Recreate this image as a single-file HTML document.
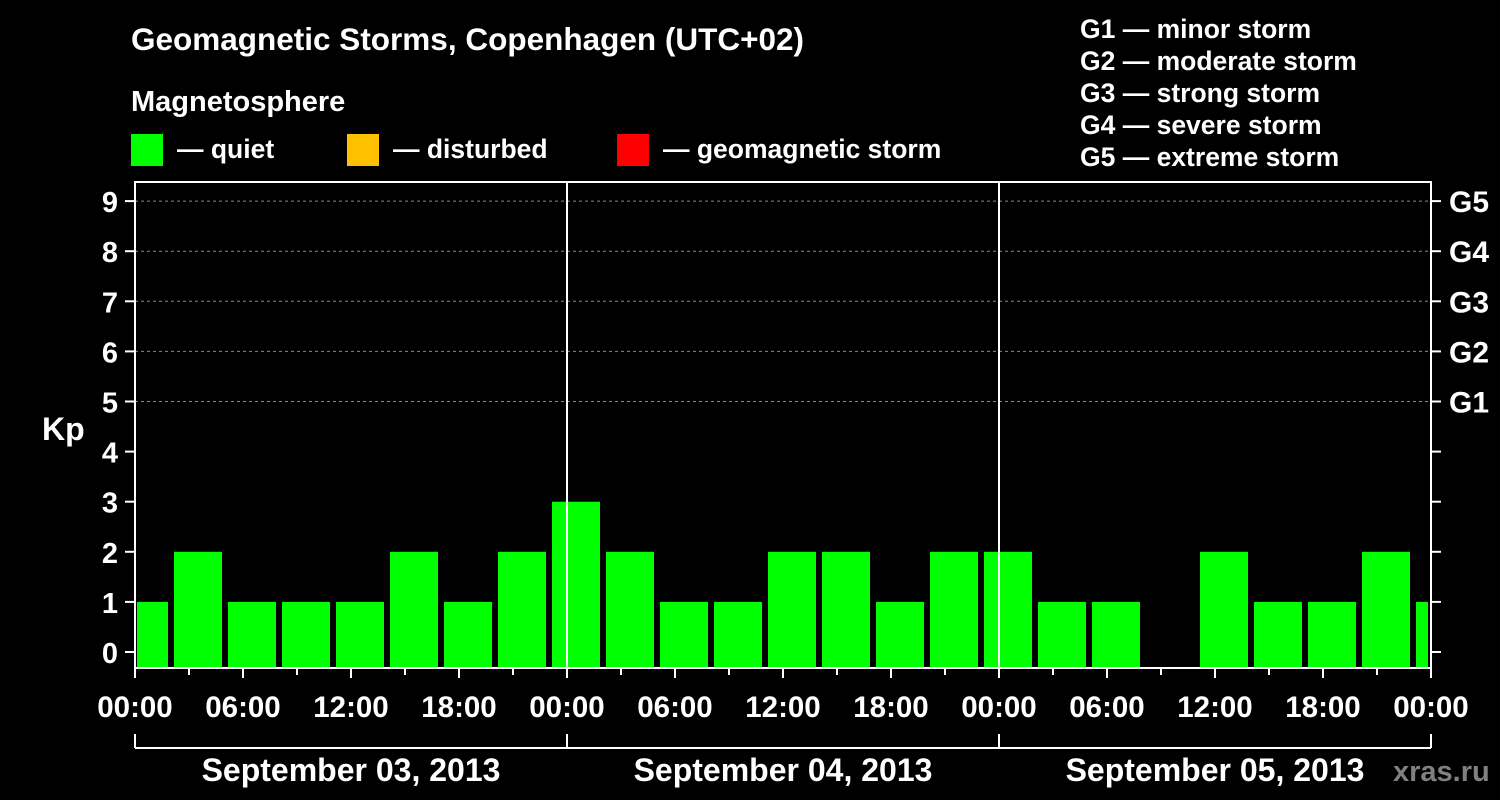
<!DOCTYPE html>
<html><head><meta charset="utf-8"><style>
html,body{margin:0;padding:0;background:#000;}
svg{display:block;font-family:"Liberation Sans",Arial,sans-serif;font-weight:bold;}
</style></head><body>
<svg id="chart" width="1500" height="800">
<rect width="1500" height="800" fill="#000"/>
<text x="131" y="50" fill="#fff" font-size="31.5">Geomagnetic Storms, Copenhagen (UTC+02)</text>
<text x="131" y="111" fill="#fff" font-size="29">Magnetosphere</text>
<g><rect x="131" y="134" width="32" height="32" fill="#00ff00"/><text x="177" y="158" fill="#fff" font-size="26.5">— quiet</text></g>
<g><rect x="347" y="134" width="32" height="32" fill="#ffc000"/><text x="393" y="158" fill="#fff" font-size="26.5">— disturbed</text></g>
<g><rect x="617" y="134" width="32" height="32" fill="#ff0000"/><text x="663" y="158" fill="#fff" font-size="26.5">— geomagnetic storm</text></g>
<g fill="#fff" font-size="26.5">
<text x="1080" y="38">G1 — minor storm</text>
<text x="1080" y="70">G2 — moderate storm</text>
<text x="1080" y="102">G3 — strong storm</text>
<text x="1080" y="134">G4 — severe storm</text>
<text x="1080" y="166">G5 — extreme storm</text>
</g>
<text x="42" y="440" fill="#fff" font-size="32">Kp</text>
<text x="1393" y="781" fill="#808080" font-size="29">xras.ru</text>
<g id="grid"></g><g id="bars"></g><g id="axes"></g>
</svg>
<script>
const kpValues=[1,2,1,1,1,2,1,2,3,2,1,1,2,2,1,2,2,1,1,0,2,1,1,2,1];
const yTicks=[0,1,2,3,4,5,6,7,8,9];
const gLabels=["G1","G2","G3","G4","G5"];
const xLabels=["00:00","06:00","12:00","18:00","00:00","06:00","12:00","18:00","00:00","06:00","12:00","18:00","00:00"];
const dayLabels=["September 03, 2013","September 04, 2013","September 05, 2013"];
const NS="http://www.w3.org/2000/svg";
const L=135,R=1431,T=182,B=668;
const y=v=>652-v*50.1;
const x=h=>L+h*18;
function mk(tag,attrs,parent,txt){const e=document.createElementNS(NS,tag);for(const k in attrs)e.setAttribute(k,attrs[k]);if(txt!=null)e.textContent=txt;parent.appendChild(e);return e;}
const grid=document.getElementById('grid'),bars=document.getElementById('bars'),axes=document.getElementById('axes');
yTicks.forEach(v=>{
 if(v>=5){const g=mk('line',{x1:L,x2:R,y1:y(v),y2:y(v),stroke:'#888','stroke-dasharray':'3,3','stroke-width':1},grid);
 
 }
 const t=mk('text',{x:118,y:y(v)+11,fill:'#fff','font-size':29,'text-anchor':'end'},axes,String(v));
 
 
 mk('line',{x1:L-10,x2:L,y1:y(v),y2:y(v),stroke:'#fff','stroke-width':2},axes);
 mk('line',{x1:R,x2:R+10,y1:y(v),y2:y(v),stroke:'#fff','stroke-width':2},axes);
});
gLabels.forEach((g,i)=>{const t=mk('text',{x:1449,y:y(5+i)+11,fill:'#fff','font-size':30},axes,g);
 
 });
kpValues.forEach((v,i)=>{
 let x0=x(-1+3*i)+3,x1=x(-1+3*i+3)-3;
 x0=Math.max(x0,L+2);x1=Math.min(x1,R-3);
 if(x1<=x0)return;
 const h=B-y(v);
 const b=mk('rect',{x:x0,y:v>0?y(v):B,width:x1-x0,height:v>0?h:0,fill:'#00ff00'},bars);
 
 
});
[1,2].forEach(d=>mk('line',{x1:x(24*d),x2:x(24*d),y1:T,y2:B,stroke:'#fff','stroke-width':2},axes));
mk('rect',{x:L,y:T,width:R-L,height:B-T,fill:'none',stroke:'#fff','stroke-width':2},axes);
for(let h=0;h<=72;h+=3){const len=h%6===0?10:7;mk('line',{x1:x(h),x2:x(h),y1:B,y2:B+len,stroke:'#fff','stroke-width':2},axes);}
xLabels.forEach((s,i)=>{const t=mk('text',{x:x(i*6),y:717,fill:'#fff','font-size':29.5,'text-anchor':'middle'},axes,s);
 
 });
mk('line',{x1:L,x2:R,y1:748,y2:748,stroke:'#fff','stroke-width':2},axes);
for(let d=0;d<=3;d++)mk('line',{x1:x(24*d),x2:x(24*d),y1:734,y2:748,stroke:'#fff','stroke-width':2},axes);
dayLabels.forEach((s,i)=>{const t=mk('text',{x:x(24*i+12),y:781,fill:'#fff','font-size':32,'text-anchor':'middle'},axes,s);
 
 });
</script>
</body></html>
